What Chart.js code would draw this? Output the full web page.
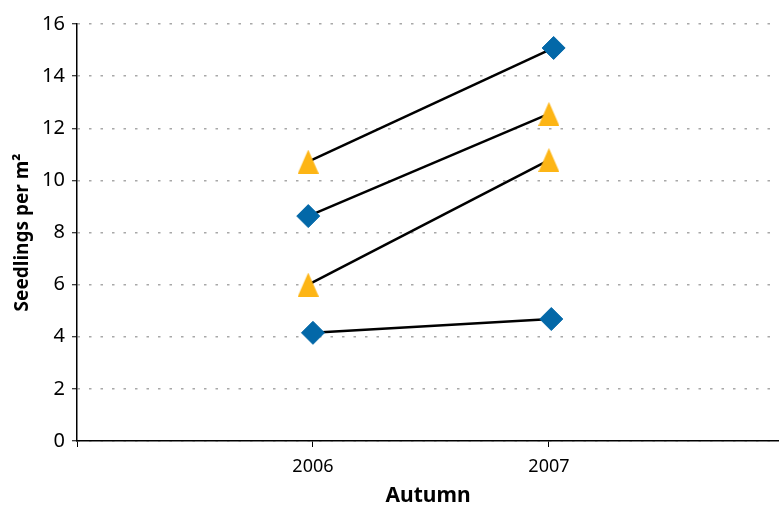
<!DOCTYPE html>
<html>
<head>
<meta charset="utf-8">
<script src="https://cdn.jsdelivr.net/npm/chart.js@4.4.0/dist/chart.umd.min.js"></script>
<style>
  html, body { margin: 0; padding: 0; background: #fff; }
  #wrap { width: 779px; height: 506px; }
</style>
</head>
<body>
<div id="wrap"><canvas id="seedChart" width="779" height="506"></canvas></div>
<script>
// values
var years = [2006, 2007];
var tickYears = [2005, 2006, 2007];

// diamonds (blue) and triangles (orange), x is the year they sit at
var diamondX = [2006.0, 2005.98, 2007.02, 2007.01];
var diamondY = [4.15, 8.63, 15.08, 4.68];
var triangleX = [2005.98, 2005.98, 2007.0, 2007.0];
var triangleY = [10.72, 6.0, 12.55, 10.78];

// black connecting lines, each one 2006 -> 2007
var lineX = [
    [2006.0, 2007.01],
    [2005.98, 2007.0],
    [2005.98, 2007.02],
    [2005.98, 2007.0]
];
var lineY = [
    [4.15, 4.68],
    [8.63, 12.55],
    [10.72, 15.08],
    [6.0, 10.78]
];

function makeTriangle(w, h, color) {
    var c = document.createElement('canvas');
    c.width = w;
    c.height = h;
    var g = c.getContext('2d');
    g.fillStyle = color;
    g.beginPath();
    g.moveTo(w / 2, 0);
    g.lineTo(w, h);
    g.lineTo(0, h);
    g.closePath();
    g.fill();
    return c;
}

var datasets = [];
for (var i = 0; i < lineY.length; i++) {
    var pts = [];
    for (var j = 0; j < lineY[i].length; j++) {
        pts.push({ x: lineX[i][j], y: lineY[i][j] });
    }
    datasets.push({
        type: 'line',
        data: pts,
        borderColor: '#000',
        borderWidth: 2.5,
        pointRadius: 0,
        fill: false,
        order: 2
    });
}

var diamonds = [];
for (var i = 0; i < diamondY.length; i++) diamonds.push({ x: diamondX[i], y: diamondY[i] });
var triangles = [];
for (var i = 0; i < triangleY.length; i++) triangles.push({ x: triangleX[i], y: triangleY[i] });

datasets.push({
    type: 'scatter',
    data: diamonds,
    pointStyle: 'rectRot',
    pointRadius: 11.5,
    backgroundColor: '#0368A8',
    borderColor: '#0368A8',
    borderWidth: 1,
    order: 1
});
datasets.push({
    type: 'scatter',
    data: triangles,
    pointStyle: makeTriangle(21, 24, '#FDB515'),
    pointRadius: 12,
    order: 1
});

var font = "'Noto Sans', sans-serif";

new Chart(document.getElementById('seedChart'), {
    type: 'scatter',
    data: { datasets: datasets },
    options: {
        responsive: false,
        animation: false,
        layout: { autoPadding: false, padding: { top: 24, right: 0, left: 0, bottom: 0 } },
        plugins: {
            legend: { display: false },
            tooltip: { enabled: false }
        },
        scales: {
            x: {
                type: 'linear',
                min: 2005,
                max: 2007.975,
                afterBuildTicks: function(scale) {
                    scale.ticks = tickYears.map(function(v) { return { value: v }; });
                },
                afterFit: function(scale) {
                    scale.height = 65;
                    scale.paddingRight = 0;
                    scale.paddingLeft = 0;
                },
                ticks: {
                    color: '#000',
                    font: { family: font, size: 18 },
                    padding: 9,
                    callback: function(v) { return years.indexOf(v) >= 0 ? String(v) : ''; }
                },
                grid: {
                    drawOnChartArea: false,
                    tickLength: 6,
                    tickColor: '#000'
                },
                border: { color: '#000', width: 1.5 },
                title: {
                    display: true,
                    text: 'Autumn',
                    color: '#000',
                    font: { family: font, size: 21, weight: 'bold' },
                    padding: { top: 2, bottom: -3 }
                }
            },
            y: {
                min: 0,
                max: 16,
                afterFit: function(scale) {
                    scale.width = 77;
                    scale.paddingTop = 0;
                },
                ticks: {
                    stepSize: 2,
                    color: '#000',
                    font: { family: font, size: 20 },
                    padding: 7
                },
                grid: {
                    color: '#A8A8A8',
                    lineWidth: 1.5,
                    tickLength: 5,
                    tickColor: '#000',
                    tickWidth: 1,
                    tickBorderDash: []
                },
                border: { color: '#000', width: 1.5, dash: [2.5, 9] },
                title: {
                    display: true,
                    text: 'Seedlings per m²',
                    color: '#000',
                    font: { family: font, size: 19, weight: 'bold' },
                    padding: { top: 11, bottom: 0 }
                }
            }
        }
    }
});
</script>
</body>
</html>
